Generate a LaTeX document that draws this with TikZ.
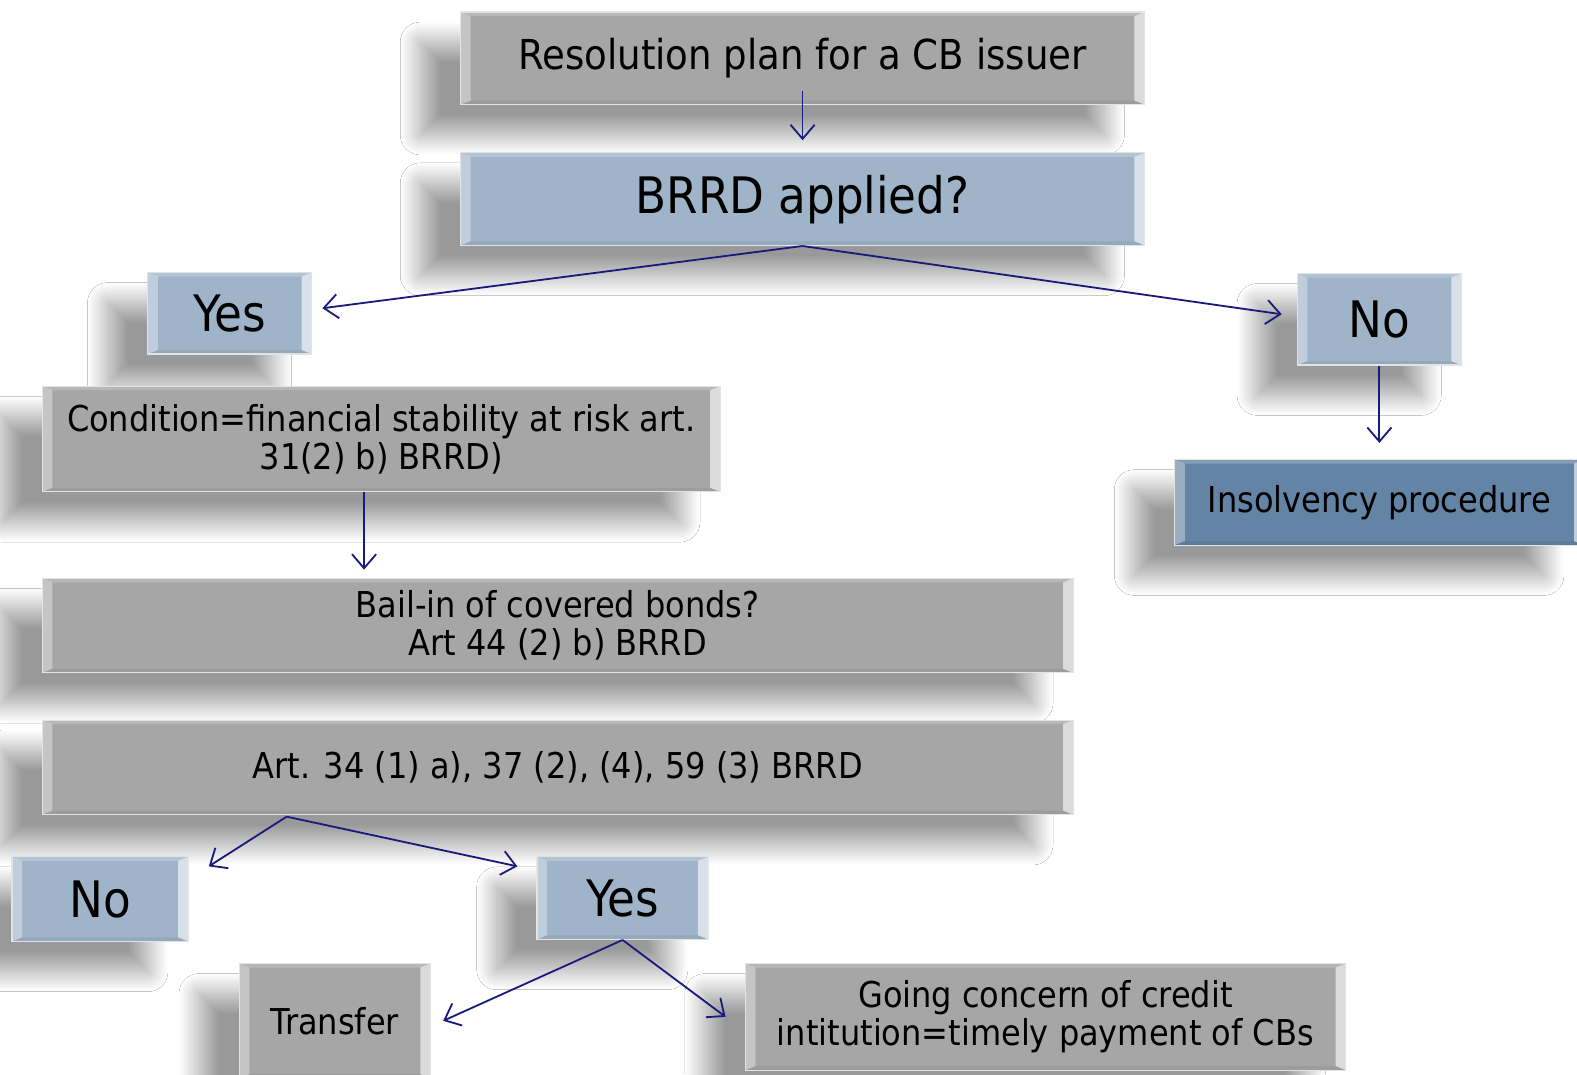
\documentclass[tikz,border=0pt]{standalone}
\usepackage{fontspec}
\setmainfont{DejaVu Sans Condensed}
\usepackage{tikz}
\usetikzlibrary{arrows.meta,shadows.blur}
\definecolor{boxgray}{HTML}{A6A6A6}
\definecolor{boxblue}{HTML}{9FB4C9}
\definecolor{boxdark}{HTML}{6384A4}
\definecolor{arrowblue}{HTML}{1A1A7E}

\begin{document}
\begin{tikzpicture}[x=0.5pt,y=-0.5pt,
  box/.style={draw=white!78!gray, line width=0.6pt, inner sep=0pt, align=center,
    blur shadow={shadow xshift=-20pt, shadow yshift=-15pt, shadow blur radius=10pt, shadow blur steps=30, shadow opacity=40},
    path picture={
      \fill[white,opacity=.35] (path picture bounding box.north west) -- ([xshift=5pt,yshift=-2pt]path picture bounding box.north west) -- ([xshift=5pt,yshift=2pt]path picture bounding box.south west) -- (path picture bounding box.south west) -- cycle;
      \fill[white,opacity=.6] (path picture bounding box.north east) -- ([xshift=-5pt,yshift=-2pt]path picture bounding box.north east) -- ([xshift=-5pt,yshift=2pt]path picture bounding box.south east) -- (path picture bounding box.south east) -- cycle;
      \fill[white,opacity=.2] (path picture bounding box.north west) -- ([xshift=5pt,yshift=-2pt]path picture bounding box.north west) -- ([xshift=-5pt,yshift=-2pt]path picture bounding box.north east) -- (path picture bounding box.north east) -- cycle;
      \fill[black,opacity=.06] (path picture bounding box.south west) -- ([xshift=5pt,yshift=2pt]path picture bounding box.south west) -- ([xshift=-5pt,yshift=2pt]path picture bounding box.south east) -- (path picture bounding box.south east) -- cycle;
    }},
  graybox/.style={box, fill=boxgray},
  bluebox/.style={box, fill=boxblue},
  darkbox/.style={box, fill=boxdark},
  small/.style={font=\fontsize{17.7pt}{19pt}\selectfont},
  big/.style={font=\fontsize{25pt}{27pt}\selectfont},
  arr/.style={->, >={Straight Barb[length=7pt,width=12pt]}, draw=arrowblue, line width=0.9pt}]
\useasboundingbox (0,0) rectangle (1568,1068);
\fill[white] (0,0) rectangle (1568,1068);

\node[graybox, font=\fontsize{20.5pt}{22pt}\selectfont, minimum width=340pt, minimum height=46pt] (res) at (798,58) {Resolution plan for a CB issuer};
\node[bluebox, big, minimum width=340pt, minimum height=46pt] (brrd) at (798,198) {BRRD applied?};
\node[bluebox, big, minimum width=81.5pt, minimum height=40.5pt] (yes1) at (228.5,311.5) {Yes};
\node[bluebox, big, minimum width=81.5pt, minimum height=45.5pt] (no1) at (1371.5,317.5) {No};
\node[graybox, small, minimum width=337pt, minimum height=52.5pt] (cond) at (379,436.5) {Condition=financial stability at risk art.\\ 31(2) b) BRRD)};
\node[darkbox, small, minimum width=203.5pt, minimum height=42.5pt] (ins) at (1371.5,499.5) {Insolvency procedure};
\node[graybox, small, minimum width=512.5pt, minimum height=47pt] (bail) at (554.5,622) {Bail-in of covered bonds?\\ Art 44 (2) b) BRRD};
\node[graybox, small, minimum width=512.5pt, minimum height=47pt] (art) at (554.5,763) {Art. 34 (1) a), 37 (2), (4), 59 (3) BRRD};
\node[bluebox, big, minimum width=87.5pt, minimum height=42pt] (no2) at (99.5,894) {No};
\node[bluebox, big, minimum width=85pt, minimum height=41pt] (yes2) at (619,893) {Yes};
\node[graybox, small, minimum width=95pt, minimum height=57pt] (tr) at (333,1015) {Transfer};
\node[graybox, small, minimum width=298.5pt, minimum height=53pt] (go) at (1039.5,1011) {Going concern of credit\\ intitution=timely payment of CBs};
\coordinate (artout) at (285,812);

\draw[arr] ([yshift=7pt]res.south) -- ([yshift=6pt]brrd.north);
\draw[arr] (brrd.south) -- ([xshift=5pt,yshift=2.5pt]yes1.east);
\draw[arr] (brrd.south) -- ([xshift=-7.5pt,yshift=2.5pt]no1.west);
\draw[arr, shorten >=8pt] (no1.south) -- (no1.south |- ins.north);
\draw[arr, shorten >=4pt] ([xshift=-8.5pt]cond.south) -- ([xshift=-8.5pt]cond.south |- bail.north);
\draw[arr] (artout) -- ([xshift=10pt,yshift=-5pt]no2.north east);
\draw[arr] (artout) -- ([xshift=-9.5pt,yshift=-5pt]yes2.north west);
\draw[arr] (yes2.south) -- ([xshift=6pt]tr.east);
\draw[arr] (yes2.south) -- ([xshift=-9.5pt]go.west);
\end{tikzpicture}
\end{document}
